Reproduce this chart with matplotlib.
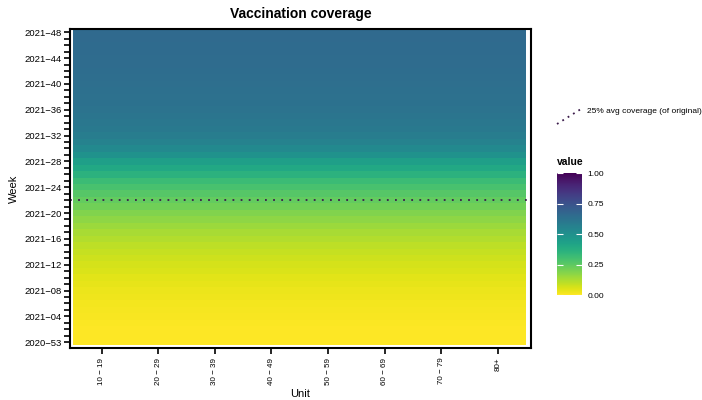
import matplotlib
matplotlib.use("Agg")
import matplotlib.pyplot as plt
import numpy as np
from matplotlib.lines import Line2D
from matplotlib import cm, colors

plt.rcParams['font.family'] = ['Liberation Sans', 'DejaVu Sans']

units = ["10 − 19", "20 − 29", "30 − 39", "40 − 49", "50 − 59", "60 − 69", "70 − 79", "80+"]
weeks = ["2020−53"] + [f"2021−{w:02d}" for w in range(1, 49)]
# coverage per week (same for every unit)
coverage = [0.0, 0.0, 0.0, 0.005, 0.01, 0.012, 0.018, 0.025, 0.03, 0.038,
            0.045, 0.055, 0.065, 0.075, 0.088, 0.10, 0.115, 0.13, 0.15, 0.17,
            0.19, 0.215, 0.24, 0.265, 0.29, 0.32, 0.36, 0.40, 0.44, 0.49,
            0.53, 0.56, 0.58, 0.595, 0.605, 0.613, 0.62, 0.625, 0.63, 0.635,
            0.64, 0.643, 0.646, 0.649, 0.652, 0.654, 0.656, 0.658, 0.66]
ref_week = "2021−22"
ref_label = "25% avg coverage (of original)"

W, H = 702, 400
fig = plt.figure(figsize=(W / 100, H / 100), dpi=100)
ax = fig.add_axes([70 / W, 1 - 348 / H, (531 - 70) / W, (348 - 29) / H])

Z = np.array([[c] * len(units) for c in coverage])
cmap = plt.get_cmap('viridis_r')
norm = colors.Normalize(0, 1)
xe = np.arange(len(units) + 1) - 0.5
ye = np.arange(len(weeks) + 1) - 0.5
ax.pcolormesh(xe, ye, Z, cmap=cmap, norm=norm, shading='flat')

ax.set_xlim(-0.56, len(units) - 0.5 + 0.085)
ax.set_ylim(-0.9, len(weeks) - 0.5)

ax.axhline(weeks.index(ref_week), color='#3a1a4a', linestyle=(0, (1, 3.5)), linewidth=1.3)

ax.set_xticks(range(len(units)))
ax.set_xticklabels(units, rotation=90, fontsize=5.8)
ax.set_yticks(range(len(weeks)), minor=True)
major = list(range(0, len(weeks), 4))
ax.set_yticks(major)
ax.set_yticklabels([weeks[i] for i in major], fontsize=6.8)
ax.tick_params(axis='both', which='both', direction='out', length=4, width=1.2, color='black', pad=2)
ax.tick_params(axis='x', pad=3)
ax.tick_params(axis='y', which='minor', labelleft=False)
for s in ax.spines.values():
    s.set_linewidth(1.5)
    s.set_color('black')

ax.set_xlabel("Unit", fontsize=8, labelpad=3)
ax.set_ylabel("Week", fontsize=8, labelpad=4)
ax.set_title("Vaccination coverage", fontsize=10, fontweight='bold', pad=8)

# legend for reference line
fig.add_artist(Line2D([557 / W, 581 / W], [1 - 124 / H, 1 - 109 / H], transform=fig.transFigure,
                      color='#3a1a4a', linestyle=(0, (1, 2.5)), linewidth=1.3))
fig.text(587 / W, 1 - 111 / H, ref_label, fontsize=6, va='center', ha='left')

# colorbar
cax = fig.add_axes([557 / W, 1 - 295 / H, 25 / W, (295 - 173) / H])
cb = fig.colorbar(cm.ScalarMappable(norm=norm, cmap=cmap), cax=cax)
cb.outline.set_visible(False)
cb.set_ticks([0, 0.25, 0.5, 0.75, 1.0])
cb.set_ticklabels(["0.00", "0.25", "0.50", "0.75", "1.00"])
cax.yaxis.set_ticks_position('both')
cax.tick_params(axis='y', which='both', direction='in', length=4, width=0.8, color='white',
                labelsize=6, labelright=True, labelleft=False, pad=4)
fig.text(557 / W, 1 - 162 / H, "value", fontsize=7.5, fontweight='bold', va='center', ha='left')

fig.savefig("out.png", dpi=100)
